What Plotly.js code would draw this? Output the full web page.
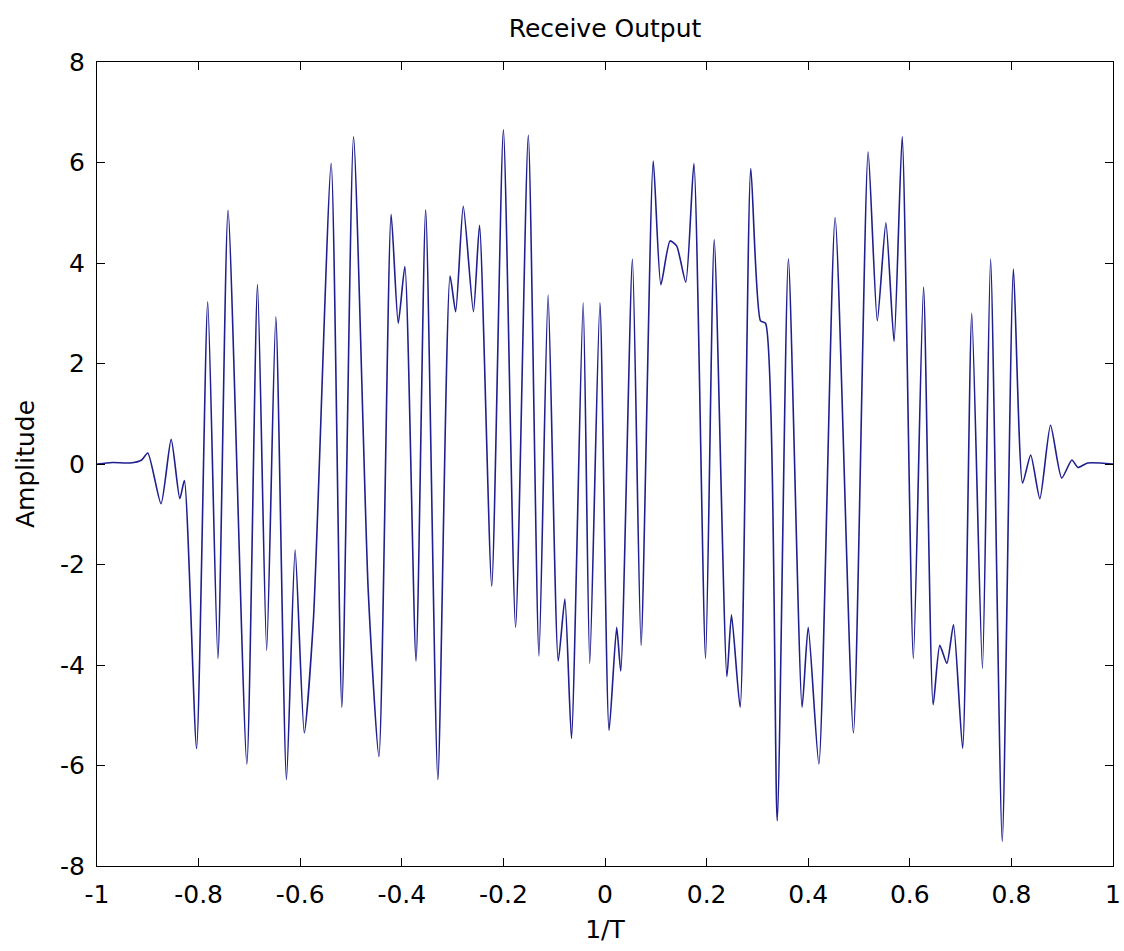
<!DOCTYPE html>
<html>
<head>
<meta charset="utf-8">
<script src="https://cdn.plot.ly/plotly-3.0.1.min.js"></script>
<style>html,body{margin:0;padding:0;background:#fff;}#chart{width:1124px;height:951px;}</style>
</head>
<body>
<div id="chart"></div>
<script>
// Signal vertices (x in 1/T, y amplitude)
const xVals = [-1.000,-0.970,-0.935,-0.912,-0.900,-0.874,-0.854,-0.837,-0.828,-0.804,
  -0.782,-0.762,-0.742,-0.705,-0.684,-0.666,-0.648,-0.627,-0.610,-0.592,
  -0.574,-0.539,-0.518,-0.495,-0.466,-0.445,-0.421,-0.407,-0.394,-0.372,
  -0.353,-0.329,-0.305,-0.294,-0.279,-0.259,-0.247,-0.223,-0.200,-0.176,
  -0.151,-0.130,-0.112,-0.092,-0.079,-0.066,-0.043,-0.030,-0.010,0.008,
  0.023,0.031,0.054,0.071,0.095,0.110,0.128,0.141,0.159,0.175,
  0.198,0.215,0.240,0.249,0.266,0.287,0.306,0.316,0.339,0.361,
  0.388,0.400,0.421,0.453,0.489,0.518,0.536,0.553,0.569,0.585,
  0.607,0.627,0.646,0.659,0.673,0.686,0.704,0.722,0.743,0.759,
  0.782,0.804,0.822,0.838,0.856,0.877,0.899,0.919,0.931,0.950,1.000];
const yVals = [0.00,0.03,0.02,0.08,0.22,-0.79,0.49,-0.69,-0.33,-5.66,
  3.23,-3.87,5.05,-5.97,3.57,-3.71,2.93,-6.28,-1.71,-5.35,
  -3.10,5.98,-4.84,6.51,-2.54,-5.82,4.97,2.80,3.93,-3.92,
  5.06,-6.28,3.74,3.03,5.13,3.03,4.75,-2.43,6.65,-3.25,
  6.54,-3.82,3.36,-3.92,-2.69,-5.46,3.21,-3.97,3.21,-5.30,
  -3.25,-4.12,4.08,-3.61,6.03,3.57,4.44,4.34,3.62,5.98,
  -3.87,4.46,-4.23,-3.00,-4.84,5.88,2.85,2.80,-7.10,4.08,
  -4.84,-3.25,-5.97,4.90,-5.35,6.21,2.85,4.80,2.44,6.51,
  -3.87,3.52,-4.79,-3.61,-3.97,-3.20,-5.66,3.00,-4.07,4.08,
  -7.51,3.88,-0.38,0.18,-0.69,0.77,-0.28,0.08,-0.07,0.02,0.00];

const xTickVals = [-1,-0.8,-0.6,-0.4,-0.2,0,0.2,0.4,0.6,0.8,1];
const xTickText = ["-1","-0.8","-0.6","-0.4","-0.2","0","0.2","0.4","0.6","0.8","1"];
const yTickVals = [-8,-6,-4,-2,0,2,4,6,8];
const yTickText = ["-8","-6","-4","-2","0","2","4","6","8"];

const font = {family: "DejaVu Sans, Verdana, sans-serif", size: 25, color: "#000"};

const trace = {
  x: xVals, y: yVals, type: "scatter", mode: "lines",
  line: {color: "#1f1f8f", width: 1.6, shape: "spline", smoothing: 0.6},
  hoverinfo: "skip"
};

const axisCommon = {
  showline: true, linecolor: "#000", linewidth: 1, mirror: "ticks",
  ticks: "inside", ticklen: 8, tickcolor: "#000", tickwidth: 1,
  showgrid: false, zeroline: false, tickfont: font, automargin: false
};

const layout = {
  width: 1124, height: 951,
  margin: {l: 97, r: 11, t: 62, b: 85, pad: 0},
  paper_bgcolor: "#fff", plot_bgcolor: "#fff",
  showlegend: false,
  title: {text: "Receive Output", font: font, x: 0.5, xanchor: "center",
          y: 0.9706, yanchor: "middle", xref: "paper", yref: "container"},
  xaxis: Object.assign({}, axisCommon, {
    range: [-1, 1], tickmode: "array", tickvals: xTickVals, ticktext: xTickText,
    ticklabelstandoff: 6,
    title: {text: "1/T", font: font, standoff: 12}
  }),
  yaxis: Object.assign({}, axisCommon, {
    range: [-8, 8], tickmode: "array", tickvals: yTickVals, ticktext: yTickText,
    ticklabelstandoff: 6,
    title: {text: "Amplitude", font: font, standoff: 18}
  })
};

Plotly.newPlot("chart", [trace], layout, {displayModeBar: false, staticPlot: true});
</script>
</body>
</html>
